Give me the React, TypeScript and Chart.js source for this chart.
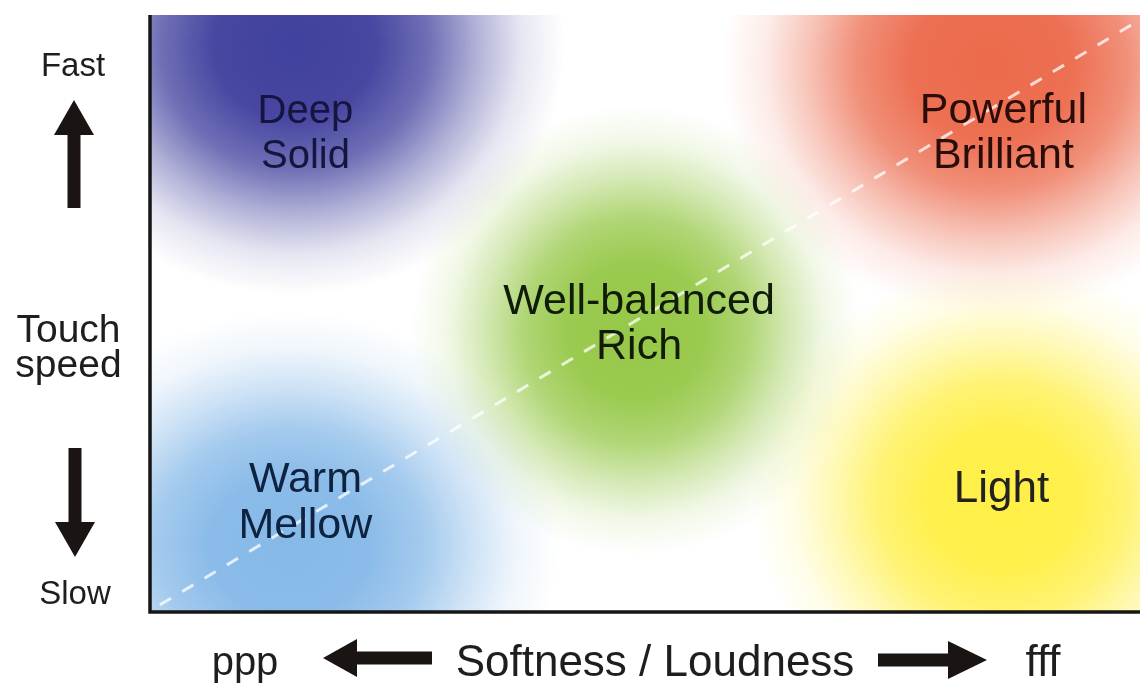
import React, { useEffect, useRef } from "react";
import { Chart, registerables } from "chart.js";

Chart.register(...registerables);

// ---- data ----
const REGION_LINES: string[][] = [
  ["Deep", "Solid"],
  ["Powerful", "Brilliant"],
  ["Well-balanced", "Rich"],
  ["Warm", "Mellow"],
  ["Light"],
];
// blob centres (softness/loudness 0-100, touch speed 0-100)
const BLOB_X = [14.6, 85.0, 49.1, 14.1, 86.1];
const BLOB_Y = [95.0, 91.5, 47.2, 11.0, 18.8];
// label centres
const LABEL_X = [15.7, 86.2, 49.4, 15.7, 86.0];
const LABEL_Y = [80.6, 80.8, 48.7, 18.8, 21.1];
// dashed diagonal
const DIAG_X = [1, 100];
const DIAG_Y = [1.2, 99.2];

const Y_TOP_LABEL = "Fast";
const Y_MID_LABEL = ["Touch", "speed"];
const Y_BOTTOM_LABEL = "Slow";
const X_LEFT_LABEL = "ppp";
const X_MID_LABEL = "Softness / Loudness";
const X_RIGHT_LABEL = "fff";

// ---- styles ----
const BLOB_STYLE = [
  { rgb: "64,64,158", rx: 270, ry: 250 },
  { rgb: "236,106,76", rx: 270, ry: 250 },
  { rgb: "150,200,72", rx: 225, ry: 225 },
  { rgb: "134,185,232", rx: 270, ry: 235 },
  { rgb: "255,239,70", rx: 250, ry: 235 },
];
const LABEL_STYLE = [
  { size: 40, lh: 45, color: "#15153f" },
  { size: 43, lh: 45, color: "#2a0d08" },
  { size: 43, lh: 45, color: "#101c08" },
  { size: 43, lh: 46, color: "#0e2340" },
  { size: 44, lh: 45, color: "#222222" },
];
const FONT = '"Liberation Sans", Arial, sans-serif';

const blobPlugin = {
  id: "blobs",
  beforeDatasetsDraw(chart: any) {
    const { ctx, chartArea: a, scales } = chart;
    ctx.save();
    ctx.beginPath();
    ctx.rect(a.left, a.top, a.right - a.left, a.bottom - a.top);
    ctx.clip();
    BLOB_X.forEach((v, i) => {
      const cx = scales.x.getPixelForValue(v);
      const cy = scales.y.getPixelForValue(BLOB_Y[i]);
      const s = BLOB_STYLE[i];
      ctx.save();
      ctx.translate(cx, cy);
      ctx.scale(s.rx, s.ry);
      const g = ctx.createRadialGradient(0, 0, 0, 0, 0, 1);
      g.addColorStop(0, `rgba(${s.rgb},1)`);
      g.addColorStop(0.3, `rgba(${s.rgb},0.96)`);
      g.addColorStop(0.5, `rgba(${s.rgb},0.75)`);
      g.addColorStop(0.68, `rgba(${s.rgb},0.4)`);
      g.addColorStop(0.84, `rgba(${s.rgb},0.13)`);
      g.addColorStop(1, `rgba(${s.rgb},0)`);
      ctx.fillStyle = g;
      ctx.fillRect(-1, -1, 2, 2);
      ctx.restore();
    });
    ctx.restore();
  },
  afterDatasetsDraw(chart: any) {
    const { ctx, scales } = chart;
    ctx.save();
    ctx.textAlign = "center";
    ctx.textBaseline = "alphabetic";
    REGION_LINES.forEach((lines, i) => {
      const st = LABEL_STYLE[i];
      const cx = scales.x.getPixelForValue(LABEL_X[i]);
      const mid = scales.y.getPixelForValue(LABEL_Y[i]);
      ctx.font = `${st.size}px ${FONT}`;
      ctx.fillStyle = st.color;
      const cap = st.size * 0.716;
      const first = mid - ((lines.length - 1) * st.lh) / 2 + cap / 2;
      lines.forEach((t, j) => ctx.fillText(t, cx, first + j * st.lh));
    });
    ctx.restore();
  },
  afterDraw(chart: any) {
    const { ctx, chartArea: a } = chart;
    ctx.save();
    // axes
    ctx.strokeStyle = "#161616";
    ctx.lineWidth = 3.5;
    ctx.beginPath();
    ctx.moveTo(a.left, a.top);
    ctx.lineTo(a.left, a.bottom);
    ctx.lineTo(a.right, a.bottom);
    ctx.stroke();

    ctx.fillStyle = "#1a1412";
    const arrowV = (x: number, tail: number, headBase: number, tip: number) => {
      ctx.beginPath();
      ctx.rect(x - 6.5, Math.min(tail, headBase), 13, Math.abs(headBase - tail));
      ctx.fill();
      ctx.beginPath();
      ctx.moveTo(x - 20, headBase);
      ctx.lineTo(x + 20, headBase);
      ctx.lineTo(x, tip);
      ctx.closePath();
      ctx.fill();
    };
    const arrowH = (y: number, tail: number, headBase: number, tip: number) => {
      ctx.beginPath();
      ctx.rect(Math.min(tail, headBase), y - 6.5, Math.abs(headBase - tail), 13);
      ctx.fill();
      ctx.beginPath();
      ctx.moveTo(headBase, y - 19);
      ctx.lineTo(headBase, y + 19);
      ctx.lineTo(tip, y);
      ctx.closePath();
      ctx.fill();
    };
    arrowV(74, 208, 135, 100);
    arrowV(75, 448, 522, 557);
    arrowH(658, 432, 357, 323);
    arrowH(660, 878, 948, 987);

    ctx.fillStyle = "#1e1e1e";
    ctx.textAlign = "center";
    ctx.textBaseline = "alphabetic";
    ctx.font = `33px ${FONT}`;
    ctx.fillText(Y_TOP_LABEL, 73, 76);
    ctx.fillText(Y_BOTTOM_LABEL, 75, 604);
    ctx.font = `39px ${FONT}`;
    ctx.fillText(Y_MID_LABEL[0], 68.5, 342);
    ctx.fillText(Y_MID_LABEL[1], 68.5, 377);
    ctx.font = `40px ${FONT}`;
    ctx.fillText(X_LEFT_LABEL, 245, 675);
    ctx.font = `44px ${FONT}`;
    ctx.fillText(X_MID_LABEL, 655, 676);
    ctx.fillText(X_RIGHT_LABEL, 1043, 676);
    ctx.restore();
  },
};

export default function App() {
  const ref = useRef<HTMLCanvasElement>(null);
  useEffect(() => {
    if (!ref.current) return;
    const chart = new Chart(ref.current, {
      type: "scatter",
      data: {
        datasets: [
          {
            type: "line",
            label: "diagonal",
            data: DIAG_X.map((x, i) => ({ x, y: DIAG_Y[i] })),
            borderColor: "rgba(255,255,255,0.75)",
            borderWidth: 3,
            borderDash: [13, 13],
            pointRadius: 0,
            fill: false,
          } as any,
          {
            label: "regions",
            data: BLOB_X.map((x, i) => ({ x, y: BLOB_Y[i] })),
            pointRadius: 0,
          },
        ],
      },
      options: {
        animation: false,
        responsive: false,
        layout: { padding: { left: 150, top: 15, right: 0, bottom: 76 } },
        scales: {
          x: { type: "linear", min: 0, max: 100, display: false },
          y: { type: "linear", min: 0, max: 100, display: false },
        },
        plugins: { legend: { display: false }, tooltip: { enabled: false } },
      },
      plugins: [blobPlugin],
    });
    return () => chart.destroy();
  }, []);
  return (
    <div style={{ position: "absolute", left: 0, top: 0, width: 1140, height: 688, background: "#fff" }}>
      <canvas ref={ref} width={1140} height={688} />
    </div>
  );
}
